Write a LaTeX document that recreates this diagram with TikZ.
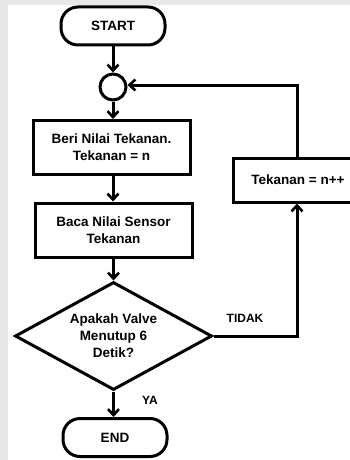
\documentclass[tikz,border=0pt]{standalone}
\usepackage{fontspec}
\setmainfont{Liberation Sans}
\usetikzlibrary{arrows.meta,shapes.geometric}
\begin{document}
\begin{tikzpicture}[x=1pt,y=-1pt,
  line width=3pt,
  every node/.style={font=\fontsize{13.5}{17}\selectfont\bfseries, align=center},
  arr/.style={-{Straight Barb[length=6pt,width=11pt,line width=2.6pt]}},
  term/.style={draw, rounded corners=17pt, minimum width=104pt, minimum height=38pt},
  proc/.style={draw, minimum width=157pt, minimum height=54pt, inner sep=2pt},
  conn/.style={draw, circle, minimum size=26pt, inner sep=0pt},
  lbl/.style={font=\fontsize{12}{14}\selectfont\bfseries}
]
\useasboundingbox (0,0) rectangle (350,460);
\fill[gray!18] (0,0) rectangle (350,460);
\fill[white] (8,5) rectangle (350,460);
\node[term] (start) at (113,26) {START};
\node[conn] (c) at (113,87) {};
\node[proc] (b1) at (111.5,147.5) {Beri Nilai Tekanan.\\Tekanan = n};
\node[proc] (b2) at (113.5,230) {Baca Nilai Sensor\\Tekanan};
\node[draw, diamond, aspect=1.8, minimum width=197pt, minimum height=108pt, inner sep=0pt] (d) at (113.5,336) {};
\node at (113.5,336) {Apakah Valve\\Menutup 6\\Detik?};
\node[draw, minimum width=130pt, minimum height=44pt] (b3) at (298,180) {Tekanan = n++};
\node[term] (end) at (115,437.5) {END};
\node[lbl] (tidak) at (245,318) {TIDAK};
\node[lbl] (ya) at (150,400) {YA};
\coordinate (r1) at (297,336);
\coordinate (r2) at (297,85);
\draw[arr] (start) -- (c);
\draw[arr] (c) -- (c |- b1.north);
\draw[arr] (c |- b1.south) -- (c |- b2.north);
\draw[arr] (b2.south -| d.north) -- (d.north);
\draw[arr] (d.east) -- (r1) -- (b3.south -| r1);
\draw[arr] (b3.north -| r2) -- (r2) -- (c.east |- r2);
\draw[arr] (d.south) -- (end.north -| d.south);
\end{tikzpicture}
\end{document}
